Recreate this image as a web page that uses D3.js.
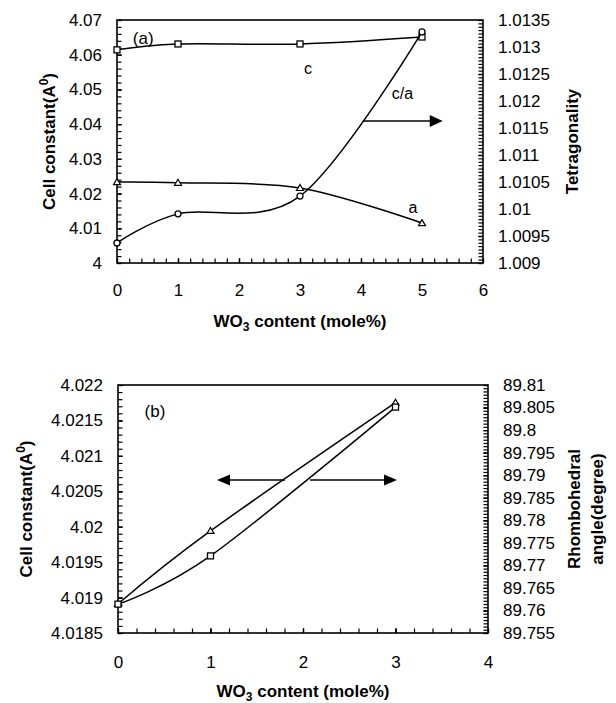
<!DOCTYPE html>
<html><head><meta charset="utf-8">
<script src="https://cdn.jsdelivr.net/npm/d3@7"></script>
<style>
body{margin:0;background:#fff}
text{font-family:"Liberation Sans",Arial,Helvetica,sans-serif;fill:#000}
</style>
</head><body>
<svg id="c" width="616" height="703"></svg>
<script>
// ---------- Panel (a) data ----------
const wo3A = [0, 1, 3, 5];
const cA = [4.0614, 4.0631, 4.0631, 4.0651];
const aA = [4.0233, 4.0231, 4.0216, 4.0115];
const caA = [1.00937, 1.00991, 1.01024, 1.01328];
const xTicksA = [0, 1, 2, 3, 4, 5, 6];
const leftTicksA = [4, 4.01, 4.02, 4.03, 4.04, 4.05, 4.06, 4.07];
const rightTicksA = [1.009, 1.0095, 1.01, 1.0105, 1.011, 1.0115, 1.012, 1.0125, 1.013, 1.0135];

// ---------- Panel (b) data ----------
const wo3B = [0, 1, 3];
const cellB = [4.01891, 4.01994, 4.02175];
const angleB = [89.7614, 89.7721, 89.8051];
const xTicksB = [0, 1, 2, 3, 4];
const leftTicksB = [4.0185, 4.019, 4.0195, 4.02, 4.0205, 4.021, 4.0215, 4.022];
const rightTicksB = [89.755, 89.76, 89.765, 89.77, 89.775, 89.78, 89.785, 89.79, 89.795, 89.8, 89.805, 89.81];

const svg = d3.select("#c");
const fmt = v => String(+v.toFixed(5));

function minor(lo, hi, n) { // n subdivisions per major step
  const out = [];
  const step = (hi - lo) / n;
  for (let i = 0; i <= n; i++) out.push(lo + i * step);
  return out;
}

function panel(o) {
  const g = svg.append("g");
  const x = d3.scaleLinear().domain(o.xDom).range([o.L, o.R]);
  const yl = d3.scaleLinear().domain(o.lDom).range([o.B, o.T]);
  const yr = d3.scaleLinear().domain(o.rDom).range([o.B, o.T]);

  // minor ticks
  const mk = (axis, vals, tx) => {
    const a = g.append("g").attr("transform", tx)
      .call(axis.tickValues(vals).tickSize(-4.5).tickSizeOuter(0).tickFormat(""));
    a.select(".domain").remove();
    a.selectAll("line").attr("stroke", "#000").attr("stroke-width", 1.2);
  };
  let xm = [], lm = [], rm = [];
  for (let i = 0; i < o.xT.length - 1; i++) xm = xm.concat(minor(o.xT[i], o.xT[i + 1], o.xMinor));
  for (let i = 0; i < o.lT.length - 1; i++) lm = lm.concat(minor(o.lT[i], o.lT[i + 1], o.lMinor));
  for (let i = 0; i < o.rT.length - 1; i++) rm = rm.concat(minor(o.rT[i], o.rT[i + 1], o.rMinor));
  mk(d3.axisBottom(x), xm, `translate(0,${o.B})`);
  mk(d3.axisLeft(yl), lm, `translate(${o.L},0)`);
  mk(d3.axisRight(yr), rm, `translate(${o.R},0)`);

  // major axes with labels
  const style = (a) => {
    a.select(".domain").remove();
    a.selectAll("line").attr("stroke", "#000").attr("stroke-width", 1.2);
    a.selectAll("text").attr("font-size", 17).attr("fill", "#000")
      .attr("font-family", '"Liberation Sans",Arial,sans-serif');
  };
  g.append("g").attr("transform", `translate(0,${o.B})`)
    .call(d3.axisBottom(x).tickValues(o.xT).tickSize(-4.5).tickPadding(o.xPad).tickFormat(fmt)).call(style);
  g.append("g").attr("transform", `translate(${o.L},0)`)
    .call(d3.axisLeft(yl).tickValues(o.lT).tickSize(-4.5).tickPadding(15).tickFormat(fmt)).call(style);
  g.append("g").attr("transform", `translate(${o.R},0)`)
    .call(d3.axisRight(yr).tickValues(o.rT).tickSize(-4.5).tickPadding(15).tickFormat(fmt)).call(style);

  // frame
  g.append("rect").attr("x", o.L).attr("y", o.T).attr("width", o.R - o.L).attr("height", o.B - o.T)
    .attr("fill", "none").attr("stroke", "#000").attr("stroke-width", 1.6);

  // series
  o.series.forEach(s => {
    const ys = s.axis === "r" ? yr : yl;
    const pts = s.x.map((xv, i) => [x(xv), ys(s.y[i])]);
    g.append("path").attr("d", d3.line().curve(d3.curveCardinal.tension(0))(pts))
      .attr("fill", "none").attr("stroke", "#000").attr("stroke-width", 1.5);
    pts.forEach(p => {
      if (s.m === "sq") g.append("rect").attr("x", p[0] - 3).attr("y", p[1] - 3).attr("width", 6).attr("height", 6)
        .attr("fill", "#fff").attr("stroke", "#000").attr("stroke-width", 1.3);
      else if (s.m === "ci") g.append("circle").attr("cx", p[0]).attr("cy", p[1]).attr("r", 3)
        .attr("fill", "#fff").attr("stroke", "#000").attr("stroke-width", 1.3);
      else g.append("path").attr("d", `M${p[0]},${p[1] - 3.5}L${p[0] + 3.5},${p[1] + 2.5}L${p[0] - 3.5},${p[1] + 2.5}Z`)
        .attr("fill", "#fff").attr("stroke", "#000").attr("stroke-width", 1.2);
    });
  });

  // arrows
  o.arrows.forEach(a => {
    const y = yl(a.y), x0 = x(a.from), x1 = x(a.to);
    const dir = Math.sign(x1 - x0);
    g.append("line").attr("x1", x0).attr("x2", x1 - dir * 12).attr("y1", y).attr("y2", y)
      .attr("stroke", "#000").attr("stroke-width", 1.4);
    g.append("path").attr("d", `M${x1},${y}L${x1 - dir * 13},${y - a.h}L${x1 - dir * 13},${y + a.h}Z`).attr("fill", "#000");
  });

  // annotations
  o.notes.forEach(n => g.append("text").attr("x", x(n.x)).attr("y", yl(n.y)).attr("font-size", n.fs || 16)
    .attr("text-anchor", "middle").text(n.t));

  // x title
  const xt = g.append("text").attr("x", (o.L + o.R) / 2).attr("y", o.xTitleY).attr("text-anchor", "middle")
    .attr("font-size", 17).attr("font-weight", "bold");
  xt.append("tspan").text("WO");
  xt.append("tspan").attr("font-size", 12).attr("dy", 4).text("3");
  xt.append("tspan").attr("dy", -4).text(" content (mole%)");

  // left title
  const cy = (o.T + o.B) / 2;
  const lt = g.append("text").attr("transform", `translate(${o.lTitleX},${cy}) rotate(-90)`)
    .attr("text-anchor", "middle").attr("font-size", 17).attr("font-weight", "bold");
  lt.append("tspan").text("Cell constant(A");
  lt.append("tspan").attr("font-size", 12).attr("dy", -7).text("0");
  lt.append("tspan").attr("dy", 7).text(")");

  // right title
  o.rTitle.forEach((t, i) => {
    g.append("text").attr("transform", `translate(${o.rTitleX[i]},${cy}) rotate(-90)`)
      .attr("text-anchor", "middle").attr("font-size", 17).attr("font-weight", "bold").text(t);
  });
}

panel({
  L: 117, R: 483, T: 20, B: 263,
  xDom: [0, 6], lDom: [4, 4.07], rDom: [1.009, 1.0135],
  xT: xTicksA, lT: leftTicksA, rT: rightTicksA,
  xMinor: 5, lMinor: 5, rMinor: 8, xPad: 21,
  series: [
    {x: wo3A, y: cA, axis: "l", m: "sq"},
    {x: wo3A, y: aA, axis: "l", m: "tr"},
    {x: wo3A, y: caA, axis: "r", m: "ci"}
  ],
  arrows: [{y: 4.0409, from: 4.03, to: 5.34, h: 6}],
  notes: [
    {x: 0.43, y: 4.0632, t: "(a)", fs: 17},
    {x: 3.13, y: 4.0545, t: "c"},
    {x: 4.68, y: 4.0472, t: "c/a"},
    {x: 4.85, y: 4.0143, t: "a"}
  ],
  xTitleY: 327, lTitleX: 55,
  rTitle: ["Tetragonality"], rTitleX: [578]
});

panel({
  L: 118, R: 488, T: 385, B: 633,
  xDom: [0, 4], lDom: [4.0185, 4.022], rDom: [89.755, 89.81],
  xT: xTicksB, lT: leftTicksB, rT: rightTicksB,
  xMinor: 5, lMinor: 5, rMinor: 7, xPad: 23,
  series: [
    {x: wo3B, y: cellB, axis: "l", m: "tr"},
    {x: wo3B, y: angleB, axis: "r", m: "sq"}
  ],
  arrows: [{y: 4.02066, from: 1.805, to: 1.07, h: 5.5}, {y: 4.02066, from: 2.076, to: 3.016, h: 5.5}],
  notes: [
    {x: 0.4, y: 4.02155, t: "(b)", fs: 17}
  ],
  xTitleY: 697, lTitleX: 32,
  rTitle: ["Rhombohedral", "angle(degree)"], rTitleX: [580, 603]
});
</script>
</body></html>
